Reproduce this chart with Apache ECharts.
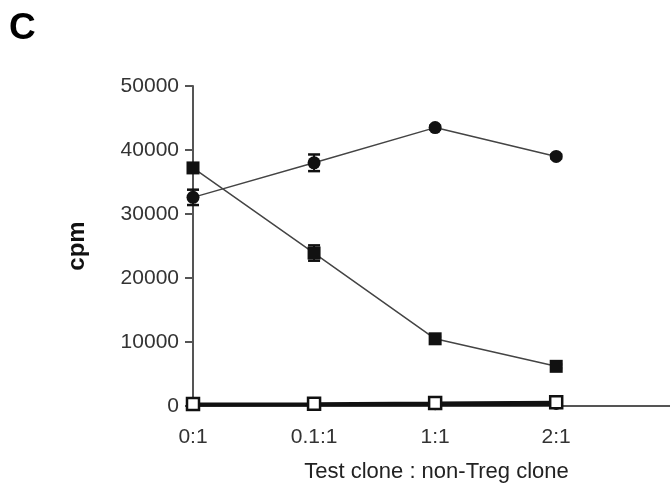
<!DOCTYPE html>
<html><head><meta charset="utf-8">
<script src="https://cdn.jsdelivr.net/npm/echarts@6/dist/echarts.min.js"></script>
<style>html,body{margin:0;padding:0;background:#fff}#c{width:670px;height:491px}</style>
</head><body><div id="c"></div>
<script>
var categories = ['0:1', '0.1:1', '1:1', '2:1'];
var circleVals = [32600, 38000, 43500, 39000];
var circleErr = [1200, 1300, 300, 300];
var squareVals = [37200, 23900, 10500, 6200];
var squareErr = [400, 1200, 300, 300];
var openSquareVals = [300, 350, 450, 600];
var openCircleVals = [100, 150, 200, 250];
var yTicks = [0, 10000, 20000, 30000, 40000, 50000];

function pts(v){ return v.map(function(y,i){ return [i, y]; }); }
function errData(v,e){ return v.map(function(y,i){ return [i, y - e[i], y + e[i]]; }); }
function errSeries(v,e){
  return {
    type:'custom', data: errData(v,e), z:5,
    renderItem: function(params, api){
      var x = api.value(0);
      var lo = api.coord([x, api.value(1)]);
      var hi = api.coord([x, api.value(2)]);
      var w = 6;
      return {type:'group', children:[
        {type:'line', shape:{x1:lo[0],y1:lo[1],x2:hi[0],y2:hi[1]}, style:{stroke:'#111',lineWidth:2}},
        {type:'line', shape:{x1:lo[0]-w,y1:lo[1],x2:lo[0]+w,y2:lo[1]}, style:{stroke:'#111',lineWidth:2.5}},
        {type:'line', shape:{x1:hi[0]-w,y1:hi[1],x2:hi[0]+w,y2:hi[1]}, style:{stroke:'#111',lineWidth:2.5}}
      ]};
    }
  };
}
var font = 'Liberation Sans, Arial, sans-serif';
var chart = echarts.init(document.getElementById('c'));
chart.setOption({
  animation:false,
  backgroundColor:'#fff',
  graphic:[
    {type:'text', left:9, top:10, style:{text:'C', font:'bold 37px ' + font, fill:'#000'}}
  ],
  grid:{left:193, top:86, right:0, height:320, containLabel:false, outerBoundsMode:'none'},
  xAxis:{
    type:'value', min:0, max:3.94,
    name:'Test clone : non-Treg clone', nameLocation:'middle', nameGap:55,
    nameTextStyle:{fontFamily:font, fontSize:22, color:'#222', padding:[0,0,0,10]},
    axisLine:{lineStyle:{color:'#555', width:2}},
    axisTick:{show:false},
    splitLine:{show:false},
    axisLabel:{fontFamily:font, fontSize:21, color:'#333', margin:21,
      customValues:[0,1,2,3],
      formatter:function(v){ return categories[v] !== undefined ? categories[v] : ''; }}
  },
  yAxis:{
    type:'value', min:0, max:50000, interval:10000,
    name:'cpm', nameLocation:'middle', nameGap:104, nameRotate:90,
    nameTextStyle:{fontFamily:font, fontSize:24, fontWeight:'bold', color:'#111'},
    axisLine:{show:true, lineStyle:{color:'#555', width:2}},
    axisTick:{show:true, length:8, lineStyle:{color:'#555', width:2}},
    splitLine:{show:false},
    axisLabel:{fontFamily:font, fontSize:21, color:'#333', margin:14,
      formatter:function(v){ return yTicks.indexOf(v) >= 0 ? String(v) : ''; }}
  },
  series:[
    {type:'line', data:pts(openCircleVals), symbol:'circle', symbolSize:9,
      itemStyle:{color:'#fff', borderColor:'#111', borderWidth:2}, lineStyle:{color:'#111', width:3}, z:3},
    {type:'line', data:pts(openSquareVals), symbol:'rect', symbolSize:12,
      itemStyle:{color:'#fff', borderColor:'#111', borderWidth:2.5}, lineStyle:{color:'#111', width:3}, z:4},
    {type:'line', data:pts(circleVals), symbol:'circle', symbolSize:13,
      itemStyle:{color:'#111'}, lineStyle:{color:'#444', width:1.5}, z:6},
    {type:'line', data:pts(squareVals), symbol:'rect', symbolSize:13,
      itemStyle:{color:'#111'}, lineStyle:{color:'#444', width:1.5}, z:6},
    errSeries(circleVals, circleErr),
    errSeries(squareVals, squareErr)
  ]
});
</script></body></html>
